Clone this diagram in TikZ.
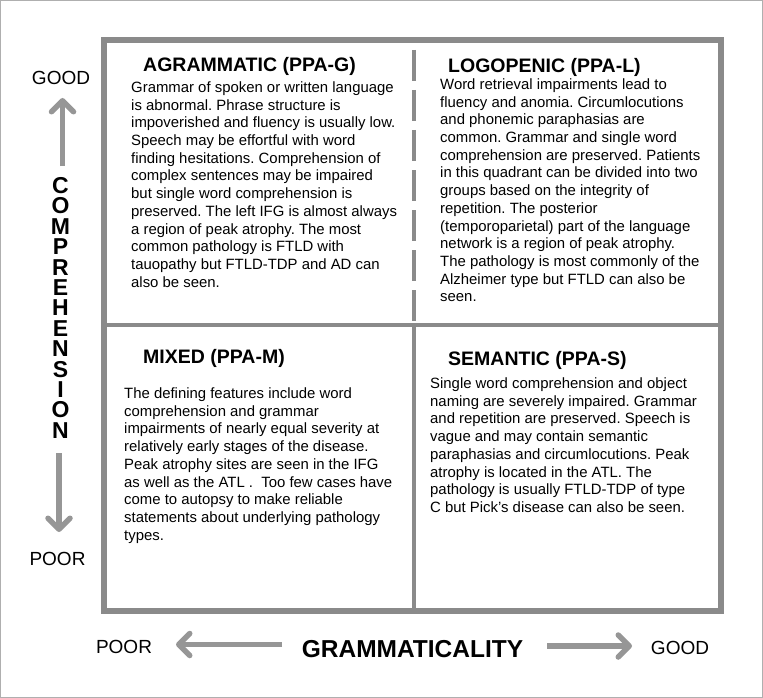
\documentclass[tikz,border=0pt]{standalone}
\usepackage{fontspec}
\setmainfont{Liberation Sans}
\usetikzlibrary{arrows.meta}
\definecolor{boxgray}{RGB}{138,138,138}
\definecolor{arrgray}{RGB}{150,150,150}
\definecolor{framegray}{RGB}{175,175,175}
\frenchspacing
\begin{document}
\begin{tikzpicture}[x=1pt,y=-1pt,
  title/.style={anchor=base west, inner sep=0, font=\fontsize{19.5}{22}\selectfont\bfseries},
  body/.style={anchor=north west, inner sep=0, align=left, font=\fontsize{14.9}{17.7}\selectfont},
  axislabel/.style={anchor=base, inner sep=0, font=\fontsize{19}{22}\selectfont},
  axisname/.style={inner sep=0, font=\fontsize{24.5}{28}\selectfont\bfseries},
  letter/.style={anchor=base, inner sep=0, font=\fontsize{23}{24}\selectfont\bfseries},
  axarrow/.style={draw=arrgray, line width=5.5pt, -{Straight Barb[length=11pt,width=22pt,round]}},
  border/.style={draw=boxgray, line width=6pt},
  divider/.style={draw=boxgray, line width=4pt}]
\useasboundingbox (0,0) rectangle (763,698);
\draw[framegray, line width=1pt] (0.5,0.5) rectangle (762.5,697.5);

% dividers
\draw[divider, dash pattern=on 31pt off 9pt] (414,50) -- (414,322);
\draw[divider] (414,325) -- (414,611);
\draw[divider] (103.5,324.5) -- (721,324.5);
% outer box
\draw[border] (103.5,40) rectangle (721,611);

% titles
\node[title] (tG) at (143,72) {AGRAMMATIC (PPA-G)};
\node[title] (tL) at (448,73) {LOGOPENIC (PPA-L)};
\node[title] (tM) at (143,363) {MIXED (PPA-M)};
\node[title] (tS) at (448,365) {SEMANTIC (PPA-S)};

% bodies
\node[body] (bG) at (131,81.5) {Grammar of spoken or written language\\
is abnormal. Phrase structure is\\
impoverished and fluency is usually low.\\
Speech may be effortful with word\\
finding hesitations. Comprehension of\\
complex sentences may be impaired\\
but single word comprehension is\\
preserved. The left IFG is almost always\\
a region of peak atrophy. The most\\
common pathology is FTLD with\\
tauopathy but FTLD-TDP and AD can\\
also be seen.};

\node[body] (bL) at (440,78.5) {Word retrieval impairments lead to\\
fluency and anomia. Circumlocutions\\
and phonemic paraphasias are\\
common. Grammar and single word\\
comprehension are preserved. Patients\\
in this quadrant can be divided into two\\
groups based on the integrity of\\
repetition. The posterior\\
(temporoparietal) part of the language\\
network is a region of peak atrophy.\\
The pathology is most commonly of the\\
Alzheimer type but FTLD can also be\\
seen.};

\node[body] (bM) at (124,387.5) {The defining features include word\\
comprehension and grammar\\
impairments of nearly equal severity at\\
relatively early stages of the disease.\\
Peak atrophy sites are seen in the IFG\\
as well as the ATL .\ \ Too few cases have\\
come to autopsy to make reliable\\
statements about underlying pathology\\
types.};

\node[body] (bS) at (430,377.5) {Single word comprehension and object\\
naming are severely impaired. Grammar\\
and repetition are preserved. Speech is\\
vague and may contain semantic\\
paraphasias and circumlocutions. Peak\\
atrophy is located in the ATL. The\\
pathology is usually FTLD-TDP of type\\
C but Pick’s disease can also be seen.};

% vertical axis
\node[axislabel] (vgood) at (61,85) {GOOD};
\node[axislabel] (vpoor) at (57.5,565) {POOR};
\foreach \ch [count=\i] in {C,O,M,P,R,E,H,E,N,S,I,O,N}
  \node[letter] (comp\i) at (60.5,{193.5+(\i-1)*20.4}) {\ch};
\coordinate (upS) at (62.5,166);
\coordinate (upT) at (62.5,98);
\coordinate (dnS) at (59,453);
\coordinate (dnT) at (59,532);
\draw[axarrow] (upS) -- (upT);
\draw[axarrow] (dnS) -- (dnT);

% horizontal axis
\node[axislabel] (hpoor) at (124,653) {POOR};
\node[axislabel] (hgood) at (680,654) {GOOD};
\node[axisname, anchor=base] (gram) at (412.5,657) {GRAMMATICALITY};
\coordinate (lfS) at (282,644.5);
\coordinate (lfT) at (176,644.5);
\coordinate (rtS) at (547,646);
\coordinate (rtT) at (632,646);
\draw[axarrow] (lfS) -- (lfT);
\draw[axarrow] (rtS) -- (rtT);
\end{tikzpicture}
\end{document}
